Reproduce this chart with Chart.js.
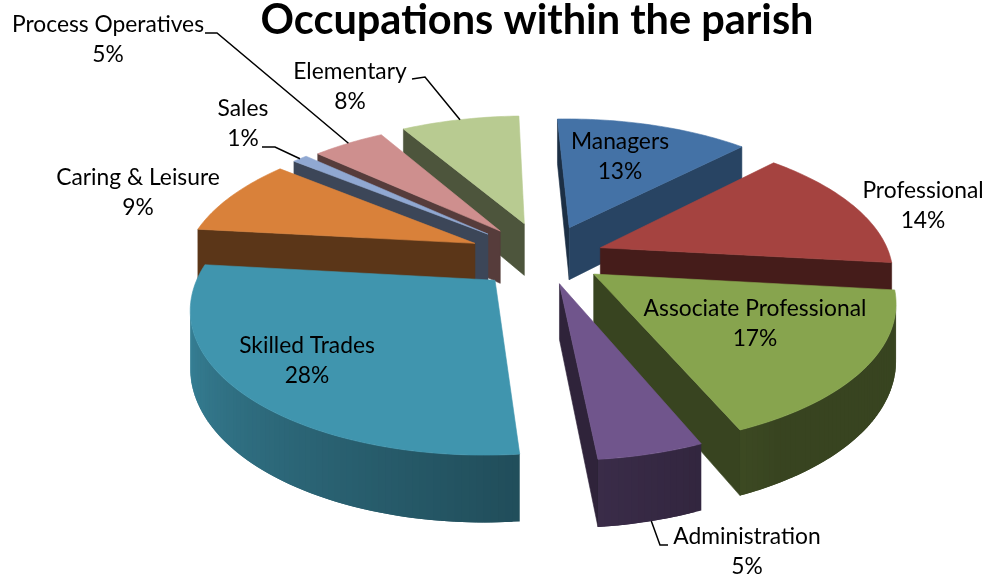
<!DOCTYPE html>
<html>
<head>
<meta charset="utf-8">
<title>Occupations within the parish</title>
<script src="https://cdn.jsdelivr.net/npm/chart.js@4"></script>
<style>
  html, body { margin: 0; background: #fff; }
  canvas { display: block; }
</style>
</head>
<body>
<canvas id="pie" width="988" height="575"></canvas>
<script>
const categories = ['Managers', 'Professional', 'Associate Professional', 'Administration',
  'Skilled Trades', 'Caring & Leisure', 'Sales', 'Process Operatives', 'Elementary'];
// shares; the printed labels round them
const shares = [12.9, 14.4, 16.9, 4.8, 28.3, 9, 1, 4.8, 7.9];
const sliceColors = ['#4472a6', '#a54340', '#87a44e', '#70558c', '#4095ae', '#d9813a', '#90a8d2', '#ce8f8e', '#b8cb91'];
const explode = [55, 47, 47, 45, 54, 61, 61, 58, 61];

// label placement, kept apart from the data: centre x, first line y
const labelAt = [[620, 142], [923, 191], [755, 309], [747, 537], [307, 346], [138, 178], [243, 109], [108, 25], [350, 72]];
// leader lines start here and run to the rim of their slice
const leaderFrom = { 3: [[668, 545], [660, 545]], 6: [[262, 147], [275, 147]], 7: [[205, 33], [217, 33]], 8: [[412, 79], [425, 77]] };

// the camera used to lay the flat pie down
const view = { radius: 290, tilt: 0.47, persp: 0.17, depth: 54, centreY: 257, shiftX: 8 };

function shade(hex, f) {
  const n = parseInt(hex.slice(1), 16);
  return `rgb(${(n >> 16) * f | 0},${((n >> 8) & 255) * f | 0},${(n & 255) * f | 0})`;
}

function project(u, v, z, cx) {
  const s = 1 / (1 - view.persp * v);
  return [cx + view.shiftX + view.radius * u * s, view.centreY + view.radius * view.tilt * v * s + z * view.depth * s];
}

// walk a slice in units of its radius, then through the camera
function slicePoint(arc, a, r, z) {
  const R = arc.outerRadius, off = arc.options.offset / R;
  const mid = (arc.startAngle + arc.endAngle) / 2;
  return project(Math.cos(mid) * off + Math.cos(a) * r, Math.sin(mid) * off + Math.sin(a) * r, z, arc.x);
}

function area(pts) {
  let sum = 0;
  pts.forEach((p, i) => {
    const q = pts[(i + 1) % pts.length];
    sum += p[0] * q[1] - q[0] * p[1];
  });
  return sum;
}

function fillPoly(ctx, pts, color, edge) {
  ctx.beginPath();
  pts.forEach((p, i) => i ? ctx.lineTo(p[0], p[1]) : ctx.moveTo(p[0], p[1]));
  ctx.closePath();
  ctx.fillStyle = color;
  ctx.fill();
  if (edge) {
    ctx.strokeStyle = color;
    ctx.lineWidth = 0.6;
    ctx.stroke();
  }
}

// cut faces get lighter when they turn away from the viewer towards the right
function faceLight(normal) {
  let deg = normal * 180 / Math.PI % 360;
  if (deg > 180) deg -= 360;
  if (deg < -180) deg += 360;
  if (deg > 90 || deg < -90) return 0.42;
  return deg < 40 ? 0.62 : 0.62 - (deg - 40) / 50 * 0.2;
}

// the rim goes from dark at the front to light at the left
function rimLight(a) {
  let deg = a * 180 / Math.PI % 360;
  if (deg < 0) deg += 360;
  if (deg > 180) return 0.92;
  return deg < 60 ? 0.42 : 0.42 + (deg - 60) / 120 * 0.5;
}

function drawSlice(ctx, arc) {
  const color = arc.options.backgroundColor;
  const a0 = arc.startAngle, a1 = arc.endAngle;
  const startFace = [slicePoint(arc, a0, 0, 0), slicePoint(arc, a0, 1, 0), slicePoint(arc, a0, 1, 1), slicePoint(arc, a0, 0, 1)];
  const endFace = [slicePoint(arc, a1, 0, 0), slicePoint(arc, a1, 1, 0), slicePoint(arc, a1, 1, 1), slicePoint(arc, a1, 0, 1)];
  if (area(startFace) < 0) fillPoly(ctx, startFace, shade(color, faceLight(a0 - Math.PI / 2)), true);
  if (area(endFace) > 0) fillPoly(ctx, endFace, shade(color, faceLight(a1 + Math.PI / 2)), true);

  // each rim step overlaps the next one so no seams show between them
  const steps = Math.ceil((a1 - a0) / 0.02);
  for (let i = 0; i < steps; i++) {
    const b0 = a0 + (a1 - a0) * i / steps, b1 = a0 + (a1 - a0) * (i + 1) / steps;
    const far = Math.min(a1, b1 + 0.02);
    const quad = [slicePoint(arc, b0, 1, 0), slicePoint(arc, far, 1, 0), slicePoint(arc, far, 1, 1), slicePoint(arc, b0, 1, 1)];
    if (area(quad) < 0) fillPoly(ctx, quad, shade(color, rimLight((b0 + b1) / 2)), false);
  }

  const top = [slicePoint(arc, a0, 0, 0)];
  for (let i = 0; i <= steps; i++) top.push(slicePoint(arc, a0 + (a1 - a0) * i / steps, 1, 0));
  fillPoly(ctx, top, color, true);
}

const pie3d = {
  id: 'pie3d',
  beforeDatasetsDraw(chart) {
    const ctx = chart.ctx;
    const arcs = chart.getDatasetMeta(0).data.slice();
    ctx.save();
    ctx.lineJoin = 'round';
    arcs.sort((a, b) => Math.sin((a.startAngle + a.endAngle) / 2) - Math.sin((b.startAngle + b.endAngle) / 2));
    arcs.forEach(arc => drawSlice(ctx, arc));
    ctx.restore();
    return false;
  },
  afterDraw(chart) {
    const ctx = chart.ctx;
    const arcs = chart.getDatasetMeta(0).data;
    ctx.save();
    ctx.strokeStyle = '#000';
    ctx.lineWidth = 1.5;
    Object.keys(leaderFrom).forEach(i => {
      const arc = arcs[i];
      const end = slicePoint(arc, (arc.startAngle + arc.endAngle) / 2, 1, Number(i) === 3 ? 1 : 0);
      ctx.beginPath();
      leaderFrom[i].forEach((p, k) => k ? ctx.lineTo(p[0], p[1]) : ctx.moveTo(p[0], p[1]));
      ctx.lineTo(end[0], end[1]);
      ctx.stroke();
    });
    ctx.fillStyle = '#000';
    ctx.font = '22.8px Lato';
    ctx.textAlign = 'center';
    ctx.textBaseline = 'middle';
    categories.forEach((name, i) => {
      ctx.fillText(name, labelAt[i][0], labelAt[i][1]);
      ctx.fillText(Math.round(shares[i]) + '%', labelAt[i][0], labelAt[i][1] + 30);
    });
    ctx.restore();
  }
};

new Chart(document.getElementById('pie'), {
  type: 'pie',
  data: {
    labels: categories,
    datasets: [{
      data: shares,
      backgroundColor: sliceColors,
      offset: explode,
      borderWidth: 0
    }]
  },
  options: {
    responsive: false,
    animation: false,
    rotation: -2,
    layout: { padding: { left: 86 } },
    plugins: {
      legend: { display: false },
      tooltip: { enabled: false },
      title: {
        display: true,
        text: 'Occupations within the parish',
        fullSize: false,
        color: '#000',
        font: { family: 'Lato', size: 41.5, weight: 'bold', lineHeight: 1 },
        padding: { top: 0, bottom: 14 }
      }
    }
  },
  plugins: [pie3d]
});
</script>
</body>
</html>
